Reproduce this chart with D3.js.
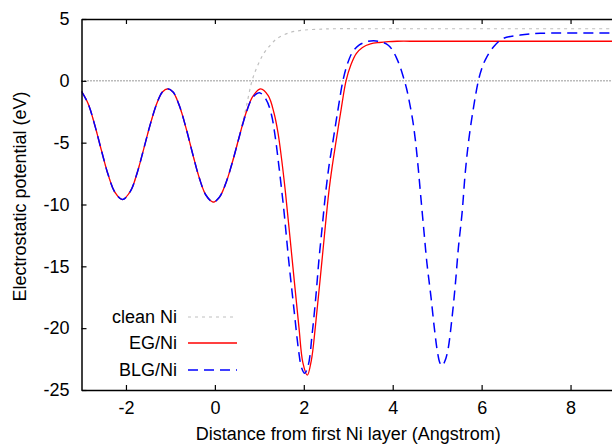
<!DOCTYPE html>
<html>
<head>
<meta charset="utf-8">
<script src="https://cdn.jsdelivr.net/npm/d3@7"></script>
<style>
 body { margin: 0; background: #fff; }
 text { font-family: "Liberation Sans", Arial, Helvetica, sans-serif; }
</style>
</head>
<body>
<script>
/* tick values */
var xTicks = [-2, 0, 2, 4, 6, 8];
var yTicks = [5, 0, -5, -10, -15, -20, -25];

/* series, [distance, potential] */
var cleanNi = [[-3.0,-0.85],[-2.85,-1.85],[-2.7,-3.6],[-2.55,-5.65],[-2.4,-7.6],[-2.25,-9.0],[-2.08,-9.6],
 [-1.9,-8.93],[-1.75,-7.47],[-1.6,-5.5],[-1.45,-3.48],[-1.3,-1.77],[-1.18,-0.9],[-1.06,-0.65],
 [-0.94,-0.91],[-0.8,-2.0],[-0.65,-3.8],[-0.5,-5.9],[-0.35,-7.86],[-0.2,-9.25],[-0.04,-9.8],
 [0.1,-9.42],[0.25,-8.24],[0.4,-6.5],[0.55,-4.5],[0.7,-2.2],[0.84,0.06],[0.97,1.3],[1.1,2.22],
 [1.25,2.9],[1.4,3.43],[1.7,3.92],[2.0,4.1],[2.4,4.18],[2.67,4.21],[3.5,4.21],[6,4.21],[9,4.21]];

var egNi = [[-3.0,-0.85],[-2.85,-1.85],[-2.7,-3.6],[-2.55,-5.65],[-2.4,-7.6],[-2.25,-9.0],[-2.08,-9.6],
 [-1.9,-8.93],[-1.75,-7.47],[-1.6,-5.5],[-1.45,-3.48],[-1.3,-1.77],[-1.18,-0.9],[-1.06,-0.65],
 [-0.94,-0.91],[-0.8,-2.0],[-0.65,-3.8],[-0.5,-5.9],[-0.35,-7.86],[-0.2,-9.25],[-0.04,-9.8],
 [0.1,-9.42],[0.25,-8.24],[0.4,-6.5],[0.55,-4.5],[0.7,-2.6],[0.85,-1.27],[1.03,-0.65],[1.2,-1.2],
 [1.33,-2.6],[1.42,-4.2],[1.5,-6.3],[1.59,-9.1],[1.74,-14.5],[1.89,-19.9],[1.98,-22.8],[2.08,-23.8],
 [2.17,-22.6],[2.26,-19.9],[2.41,-14.5],[2.56,-9.1],[2.64,-6.9],[2.73,-4.8],[2.84,-2.3],[2.95,0.0],
 [3.06,1.3],[3.18,2.2],[3.32,2.7],[3.5,2.98],[3.7,3.1],[3.9,3.17],[4.1,3.2],[4.6,3.2],[6,3.2],[9,3.2]];

var blgNi = [[-3.0,-0.85],[-2.85,-1.85],[-2.7,-3.6],[-2.55,-5.65],[-2.4,-7.6],[-2.25,-9.0],[-2.08,-9.6],
 [-1.9,-8.93],[-1.75,-7.47],[-1.6,-5.5],[-1.45,-3.48],[-1.3,-1.77],[-1.18,-0.9],[-1.06,-0.65],
 [-0.94,-0.91],[-0.8,-2.0],[-0.65,-3.8],[-0.5,-5.9],[-0.35,-7.86],[-0.2,-9.25],[-0.04,-9.8],
 [0.1,-9.42],[0.25,-8.24],[0.4,-6.5],[0.55,-4.5],[0.7,-2.65],[0.85,-1.35],[1.0,-0.96],[1.15,-1.5],
 [1.27,-2.7],[1.36,-4.6],[1.44,-6.9],[1.55,-10.4],[1.66,-14.5],[1.78,-18.5],[1.89,-22.0],[1.95,-23.2],
 [2.02,-23.65],[2.1,-23.0],[2.19,-20.4],[2.27,-17.5],[2.34,-14.5],[2.42,-11.6],[2.49,-9.1],[2.57,-6.8],
 [2.66,-4.8],[2.77,-2.3],[2.88,0.0],[2.98,1.35],[3.1,2.35],[3.25,2.9],[3.4,3.15],[3.57,3.24],
 [3.75,3.14],[3.9,2.88],[4.0,2.45],[4.08,1.9],[4.16,1.2],[4.24,0.3],[4.31,-0.6],[4.38,-1.8],[4.45,-3.2],
 [4.51,-4.8],[4.57,-6.9],[4.63,-9.3],[4.7,-12.06],
 [4.77,-14.75],[4.86,-17.45],[4.94,-20.1],[5.01,-22.0],[5.06,-22.8],[5.11,-23.05],[5.17,-22.7],
 [5.24,-21.8],[5.33,-19.3],[5.41,-16.4],[5.48,-13.4],[5.56,-10.7],[5.63,-7.5],[5.71,-4.8],[5.82,-2.1],
 [5.93,0.06],[6.0,0.95],[6.08,1.68],[6.27,2.76],[6.49,3.43],[6.87,3.7],[7.32,3.84],[8,3.86],[9,3.86]];

var legendNames = ["clean Ni", "EG/Ni", "BLG/Ni"];

var W = 612, H = 447;
var pLeft = 81.5, pRight = 615, pTop = 19, pBottom = 390;

var x = d3.scaleLinear().domain([-3, 9]).range([pLeft, pRight]);
var y = d3.scaleLinear().domain([-25, 5]).range([pBottom, pTop]);
var plain = function(d) { return String(d); }; /* hyphen minus like the original */

var svg = d3.select("body").append("svg").attr("width", W).attr("height", H);

svg.append("defs").append("clipPath").attr("id", "plotclip")
 .append("rect").attr("x", pLeft).attr("y", pTop).attr("width", pRight - pLeft).attr("height", pBottom - pTop);

/* zero line */
svg.append("line").attr("x1", pLeft).attr("x2", pRight).attr("y1", y(0)).attr("y2", y(0))
 .attr("stroke", "#333").attr("stroke-width", 1).attr("stroke-dasharray", "1,2");

var line = d3.line().x(function(d) { return x(d[0]); }).y(function(d) { return y(d[1]); })
 .curve(d3.curveCatmullRom.alpha(0.5));

var g = svg.append("g").attr("clip-path", "url(#plotclip)");
var styles = [
 { data: cleanNi, color: "#c0c0c0", width: 1.2, dash: "3,4" },
 { data: egNi, color: "#ff0000", width: 1.3, dash: null },
 { data: blgNi, color: "#0000ff", width: 1.5, dash: "10,6" }
];
styles.forEach(function(s) {
 g.append("path").datum(s.data).attr("d", line).attr("fill", "none")
  .attr("stroke", s.color).attr("stroke-width", s.width).attr("stroke-dasharray", s.dash);
});

/* axes, gnuplot style: inward ticks, mirrored */
var fs = 18;
function styleAxis(a) {
 a.select(".domain").attr("stroke", "#000").attr("stroke-width", 1.5);
 a.selectAll(".tick line").attr("stroke", "#000").attr("stroke-width", 1.2);
 a.selectAll("text").attr("font-size", fs).attr("fill", "#000").attr("font-family", "Liberation Sans, Arial, sans-serif");
}
svg.append("g").attr("transform", "translate(0," + pBottom + ")")
 .call(d3.axisBottom(x).tickValues(xTicks).tickFormat(plain).tickSizeInner(-5).tickSizeOuter(0).tickPadding(11))
 .call(styleAxis);
svg.append("g").attr("transform", "translate(0," + pTop + ")")
 .call(d3.axisTop(x).tickValues(xTicks).tickSizeInner(-5).tickSizeOuter(0).tickFormat(""))
 .call(styleAxis);
svg.append("g").attr("transform", "translate(" + pLeft + ",0)")
 .call(d3.axisLeft(y).tickValues(yTicks).tickFormat(plain).tickSizeInner(-5).tickSizeOuter(0).tickPadding(12))
 .call(styleAxis);

/* titles */
svg.append("text").text("Distance from first Ni layer (Angstrom)")
 .attr("x", (pLeft + pRight) / 2).attr("y", 440).attr("text-anchor", "middle").attr("font-size", fs);
svg.append("text").text("Electrostatic potential (eV)")
 .attr("transform", "translate(26," + ((pTop + pBottom) / 2 - 8) + ") rotate(-90)")
 .attr("text-anchor", "middle").attr("font-size", fs);

/* legend */
var legY = [317, 343, 370];
styles.forEach(function(s, i) {
 svg.append("text").text(legendNames[i]).attr("x", 177).attr("y", legY[i]).attr("dy", "0.35em")
  .attr("text-anchor", "end").attr("font-size", fs);
 svg.append("line").attr("x1", 188).attr("x2", 237).attr("y1", legY[i]).attr("y2", legY[i])
  .attr("stroke", s.color).attr("stroke-width", s.width).attr("stroke-dasharray", s.dash);
});
</script>
</body>
</html>
